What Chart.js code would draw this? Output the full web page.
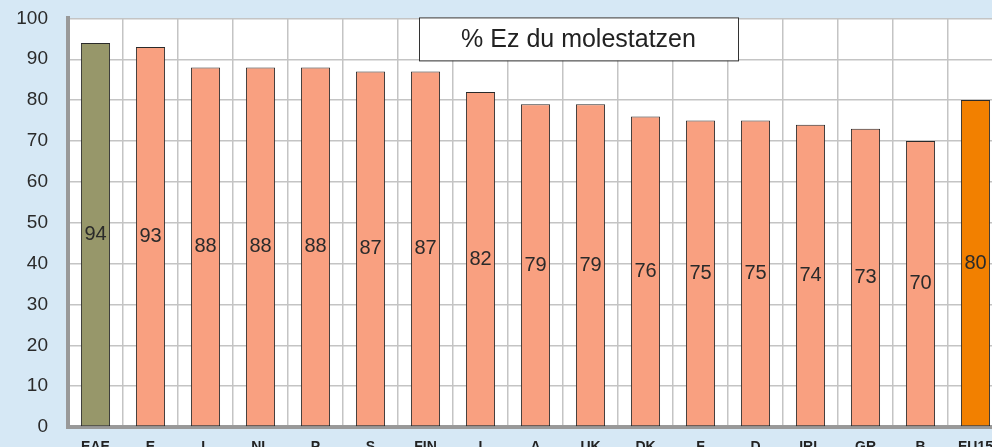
<!DOCTYPE html>
<html>
<head>
<meta charset="utf-8">
<script src="https://cdn.jsdelivr.net/npm/chart.js@4/dist/chart.umd.min.js"></script>
<style>
  html, body { margin: 0; padding: 0; background: #d6e8f5; overflow: hidden; }
  #wrap { position: absolute; left: 0; top: -13px; width: 1010px; height: 475px; }
</style>
</head>
<body>
<div id="wrap"><canvas id="chart-js"></canvas></div>
<script>
    // datuak
    const labels = ['EAE', 'E', 'L', 'NL', 'P', 'S', 'FIN', 'I', 'A', 'UK', 'DK', 'F', 'D', 'IRL', 'GR', 'B', 'EU15'];
    const values = [94, 93, 88, 88, 88, 87, 87, 82, 79, 79, 76, 75, 75, 74, 73, 70, 80];
    const yTicks = [0, 10, 20, 30, 40, 50, 60, 70, 80, 90, 100];
    const titleText = '% Ez du molestatzen';

    const barColors = labels.map(l => l === 'EAE' ? '#97976a' : (l === 'EU15' ? '#f28000' : '#f9a080'));

    // plot background + title box + value labels
    const extras = {
        id: 'extras',
        beforeDraw(chart) {
            const { ctx, chartArea: a } = chart;
            ctx.save();
            ctx.fillStyle = '#ffffff';
            ctx.fillRect(a.left, a.top, a.right - a.left, a.bottom - a.top);
            ctx.restore();
        },
        afterDatasetsDraw(chart) {
            const { ctx } = chart;
            const meta = chart.getDatasetMeta(0);
            ctx.save();
            ctx.font = '20px "Liberation Sans", Arial, sans-serif';
            ctx.fillStyle = '#2a2a2a';
            ctx.textAlign = 'center';
            ctx.textBaseline = 'middle';
            meta.data.forEach((bar, i) => {
                const mid = (bar.y + bar.base) / 2;
                ctx.fillText(values[i], bar.x, mid);
            });
            ctx.restore();
        },
        afterDraw(chart) {
            const { ctx, chartArea: a } = chart;
            const x = 419, y = a.top - 1, w = 319, h = 43;
            ctx.save();
            ctx.fillStyle = '#ffffff';
            ctx.fillRect(x, y, w, h);
            ctx.strokeStyle = '#333333';
            ctx.lineWidth = 1;
            ctx.strokeRect(x + 0.5, y + 0.5, w, h);
            ctx.font = '25px "Liberation Sans", Arial, sans-serif';
            ctx.fillStyle = '#222222';
            ctx.textAlign = 'center';
            ctx.textBaseline = 'middle';
            ctx.fillText(titleText, x + w / 2, y + h / 2 + 1);
            ctx.restore();
        }
    };

    const ctx = document.getElementById('chart-js').getContext('2d');

    const myChart = new Chart(ctx, {
        type: 'bar',
        data: {
            labels: labels,
            datasets: [{
                data: values,
                backgroundColor: barColors,
                borderColor: '#2a2a2a',
                borderWidth: 1,
                borderSkipped: false,
                categoryPercentage: 1,
                barPercentage: 0.53
            }]
        },
        options: {
            responsive: true,
            maintainAspectRatio: false,
            animation: false,
            layout: { padding: { top: 4, right: 7, left: 0, bottom: 0 } },
            plugins: {
                legend: { display: false },
                tooltip: { enabled: false }
            },
            scales: {
                x: {
                    grid: { color: '#c4c4c4', lineWidth: 1.5, drawTicks: false, offset: true },
                    border: { color: '#999999', width: 4 },
                    ticks: {
                        color: '#222222',
                        padding: 12,
                        font: { family: '"Liberation Sans", Arial, sans-serif', size: 14, weight: 'bold' }
                    },
                    afterFit(scale) { scale.height = 35; }
                },
                y: {
                    min: 0,
                    max: 100,
                    afterBuildTicks(scale) { scale.ticks = yTicks.map(v => ({ value: v })); },
                    grid: { color: '#c4c4c4', lineWidth: 1.5, drawTicks: false },
                    border: { color: '#999999', width: 4 },
                    ticks: {
                        color: '#2a2a2a',
                        padding: 20,
                        font: { family: '"Liberation Sans", Arial, sans-serif', size: 19 }
                    },
                    afterFit(scale) { scale.width = 68; }
                }
            }
        },
        plugins: [extras]
    });
</script>
</body>
</html>
